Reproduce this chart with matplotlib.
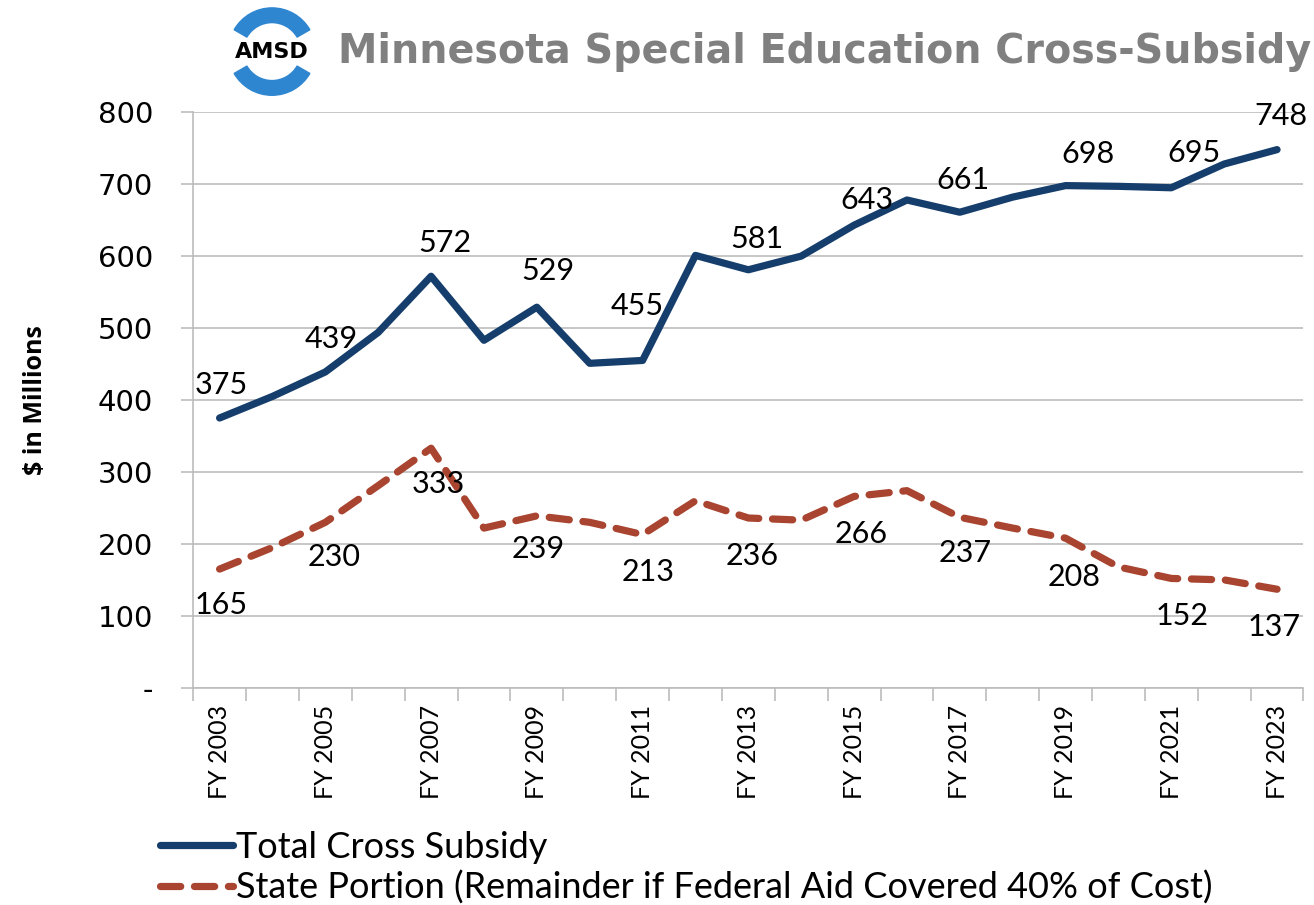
import matplotlib.pyplot as plt
from matplotlib.patches import Wedge

# data ($ in millions)
years = list(range(2003, 2024))
total_subsidy = [375, 405, 439, 494, 572, 483, 529, 451, 455, 601, 581,
                 600, 643, 678, 661, 682, 698, 697, 695, 728, 748]
state_portion = [165, 195, 230, 281, 333, 222, 239, 230, 213, 260, 236,
                 233, 266, 274, 237, 222, 208, 168, 152, 150, 137]
# labelled points (every second year)
label_idx = list(range(0, 21, 2))
tick_labels = [f"FY {y}" for y in years]

NAVY = "#163e6c"
RUST = "#a8442f"
GRID = "#bcbcbc"
LABEL_FONT = "Lato"

fig = plt.figure(figsize=(13.14, 9.05), dpi=100)
ax = fig.add_axes([0.147, 0.24, 0.845, 0.636])

x = list(range(len(years)))
ax.plot(x, total_subsidy, color=NAVY, lw=5.2, solid_joinstyle="round",
        solid_capstyle="round", label="Total Cross Subsidy")
ax.plot(x, state_portion, color=RUST, lw=5.2, ls=(0, (2.8, 1.9)),
        dash_capstyle="round", dash_joinstyle="round",
        label="State Portion (Remainder if Federal Aid Covered 40% of Cost)")

# data labels, offsets in points (dx, dy)
total_off = [(1, 24), (4, 24), (10, 24), (8, 26), (-4, 39), (6, 22),
             (9, 18), (2, 23), (16, 23), (16, 25), (3, 24)]
state_off = [(1, -26), (6, -25), (5, -26), (1, -24), (4, -27), (3, -27),
             (5, -27), (4, -26), (6, -28), (8, -27), (-2, -27)]
for k, i in enumerate(label_idx):
    ax.annotate(str(total_subsidy[i]), (i, total_subsidy[i]),
                xytext=total_off[k], textcoords="offset points",
                ha="center", va="center", fontsize=22, family=LABEL_FONT)
    ax.annotate(str(state_portion[i]), (i, state_portion[i]),
                xytext=state_off[k], textcoords="offset points",
                ha="center", va="center", fontsize=22, family=LABEL_FONT)

ax.set_xlim(-0.5, len(years) - 0.5)
ax.set_ylim(0, 800)
ax.set_yticks(range(0, 801, 100))
ax.set_yticklabels(["-"] + [str(v) for v in range(100, 801, 100)],
                   fontsize=21, family="DejaVu Sans")
ax.set_xticks(x[::2])
ax.set_xticklabels(tick_labels[::2], rotation=90, fontsize=18,
                   family=LABEL_FONT)
# category boundaries as outward tick marks
ax.set_xticks([i - 0.5 for i in range(len(years) + 1)], minor=True)
ax.tick_params(axis="x", which="major", length=0, pad=12)
ax.tick_params(axis="x", which="minor", length=9, color=GRID, width=1.2)
ax.tick_params(axis="y", length=9, color=GRID, width=1.2, pad=20)
ax.grid(axis="y", color=GRID, lw=1.2)
ax.set_axisbelow(True)
for side in ["top", "right"]:
    ax.spines[side].set_visible(False)
for side in ["left", "bottom"]:
    ax.spines[side].set_color(GRID)
    ax.spines[side].set_linewidth(1.2)

ax.set_ylabel("$ in Millions", fontsize=18, fontweight="bold",
              family="Open Sans", labelpad=36)

fig.legend(loc="upper left", bbox_to_anchor=(0.122, 0.082), frameon=False,
           prop={"family": LABEL_FONT, "size": 26},
           handlelength=2.0, handletextpad=0.1, labelspacing=0.2,
           borderaxespad=0, borderpad=0)

# title and logo
fig.text(0.257, 0.943, "Minnesota Special Education Cross-Subsidy",
         fontsize=28.5, fontweight="bold", color="#808080",
         family="DejaVu Sans", va="center", ha="left")
logo = fig.add_axes([0.172, 0.888, 0.07, 0.11])
logo.set_xlim(-1, 1)
logo.set_ylim(-1, 1)
logo.set_aspect("equal")
logo.axis("off")
logo.add_patch(Wedge((0, 0), 0.95, 30, 150, width=0.32, color="#2f86d0"))
logo.add_patch(Wedge((0, 0), 0.95, 210, 330, width=0.32, color="#2f86d0"))
logo.text(0, 0, "AMSD", ha="center", va="center", fontsize=16,
          fontweight="bold", family="DejaVu Sans")

fig.savefig("out.png", dpi=100)
